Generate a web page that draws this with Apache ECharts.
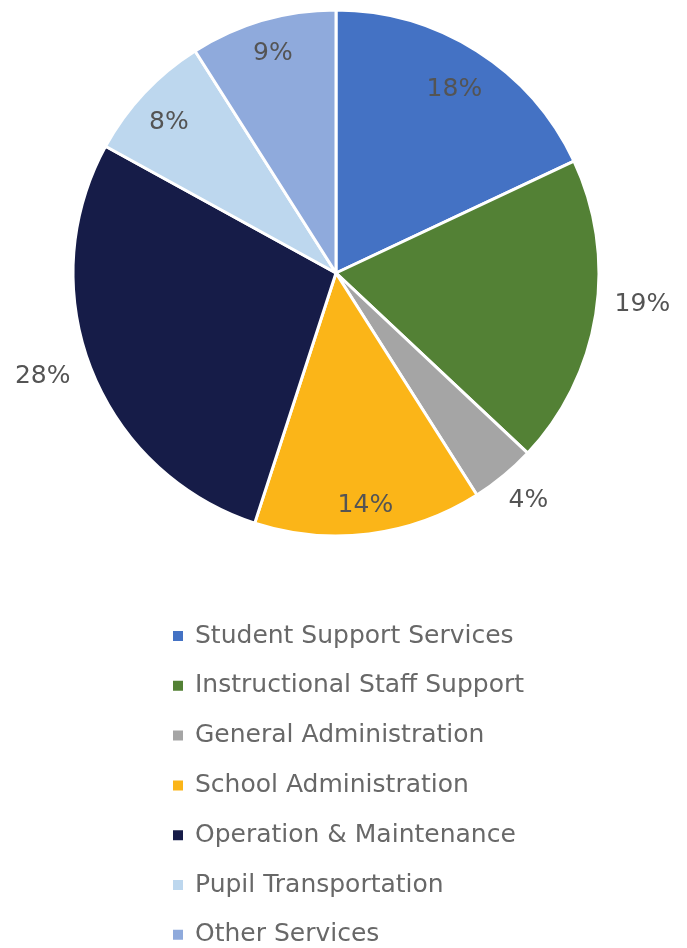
<!DOCTYPE html>
<html>
<head>
<meta charset="utf-8">
<style>
  html, body { margin: 0; padding: 0; background: #ffffff; }
  #chart { width: 687px; height: 948px; }
</style>
<script src="https://cdn.jsdelivr.net/npm/echarts@6/dist/echarts.min.js"></script>
</head>
<body>
<div id="chart"></div>
<script>
// Spending shares by category (percent of total)
const categories = [
  'Student Support Services',
  'Instructional Staff Support',
  'General Administration',
  'School Administration',
  'Operation & Maintenance',
  'Pupil Transportation',
  'Other Services'
];
const shares = [18, 19, 4, 14, 28, 8, 9];
const sliceColors = ['#4472C4', '#538135', '#A5A5A5', '#FBB518', '#161C48', '#BDD7EE', '#8FAADC'];
// which slices carry their percentage outside the pie
const labelOutside = [false, true, true, false, true, false, false];

const FONT = '"DejaVu Sans", "Liberation Sans", sans-serif';
const CENTER = [336, 273];
const RADIUS = 263;

// small nudges for the labels so they sit where they read best
const outsideNudge = { 1: [0, -12], 2: [-9, 14], 4: [-3, 2] };
const insideNudge = { 0: [-3, 8], 3: [1, 8], 5: [-2, 5], 6: [0, -2] };

const data = categories.map((name, i) => ({ name, value: shares[i] }));

const chart = echarts.init(document.getElementById('chart'), null, { renderer: 'canvas' });

const labelText = {
  color: '#545454',
  fontFamily: FONT,
  fontWeight: 400,
  fontSize: 25,
  formatter: p => p.value + '%'
};

chart.setOption({
  animation: false,
  color: sliceColors,
  legend: {
    orient: 'vertical',
    left: 166,
    top: 616,
    height: 340,
    itemWidth: 12,
    itemHeight: 12,
    itemGap: 19.8,
    icon: 'rect',
    selectedMode: false,
    textStyle: {
      color: '#686868',
      fontFamily: FONT,
      fontWeight: 400,
      fontSize: 25,
      lineHeight: 30,
      padding: [0, 0, 0, 6]
    },
    data: categories.map((name, i) => ({ name, itemStyle: { color: sliceColors[i] } }))
  },
  series: [
    {
      // the pie itself, with the outside percentage labels
      type: 'pie',
      center: CENTER,
      radius: [0, RADIUS],
      startAngle: 90,
      clockwise: true,
      avoidLabelOverlap: false,
      emphasis: { disabled: true },
      itemStyle: { borderColor: '#ffffff', borderWidth: 3 },
      label: Object.assign({ position: 'outside', distanceToLabelLine: 5 }, labelText),
      labelLine: { show: false, length: 14, length2: 0 },
      labelLayout: p => {
        const n = outsideNudge[p.dataIndex];
        return n ? { dx: n[0], dy: n[1] } : {};
      },
      data: data.map((d, i) => ({
        name: d.name,
        value: d.value,
        itemStyle: { color: sliceColors[i] },
        label: { show: labelOutside[i] }
      }))
    },
    {
      // transparent ring carrying the in-slice percentage labels near the rim
      type: 'pie',
      center: CENTER,
      radius: [184, RADIUS],
      startAngle: 90,
      clockwise: true,
      silent: true,
      emphasis: { disabled: true },
      itemStyle: { color: 'rgba(0,0,0,0)', borderWidth: 0 },
      label: Object.assign({ position: 'inside' }, labelText),
      labelLine: { show: false },
      labelLayout: p => {
        const n = insideNudge[p.dataIndex];
        return n ? { dx: n[0], dy: n[1] } : {};
      },
      data: data.map((d, i) => ({
        name: d.name,
        value: d.value,
        label: { show: !labelOutside[i] }
      }))
    }
  ]
});
</script>
</body>
</html>
